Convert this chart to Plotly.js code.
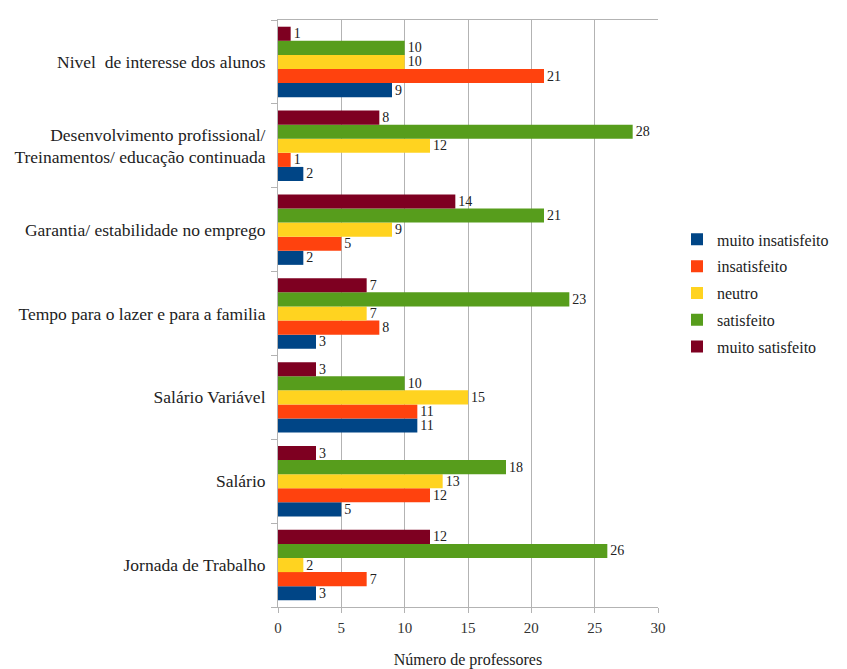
<!DOCTYPE html>
<html><head><meta charset="utf-8">
<script src="https://cdn.plot.ly/plotly-3.0.1.min.js"></script>
<style>html,body{margin:0;padding:0;background:#fff}</style>
</head><body><div id="chart" style="width:847px;height:669px"></div>
<script>
const categories = ['Jornada de Trabalho','Salário','Salário Variável','Tempo para o lazer e para a familia','Garantia/ estabilidade no emprego','Desenvolvimento profissional/<br>Treinamentos/ educação continuada','Nivel  de interesse dos alunos'];
const seriesNames = ['muito insatisfeito','insatisfeito','neutro','satisfeito','muito satisfeito'];
const muitoInsatisfeito = [3, 5, 11, 3, 2, 2, 9];
const insatisfeito = [7, 12, 11, 8, 5, 1, 21];
const neutro = [2, 13, 15, 7, 9, 12, 10];
const satisfeito = [26, 18, 10, 23, 21, 28, 10];
const muitoSatisfeito = [12, 3, 3, 7, 14, 8, 1];
const xTicks = [0, 5, 10, 15, 20, 25, 30];

const colors = ['#004586','#ff420e','#ffd320','#579d1c','#7e0021'];
const values = [muitoInsatisfeito, insatisfeito, neutro, satisfeito, muitoSatisfeito];
const font = 'Liberation Serif';

const traces = values.map((v, i) => ({
  type: 'bar', orientation: 'h', name: seriesNames[i],
  y: categories, x: v, text: v.map(String), textposition: 'outside',
  cliponaxis: false, constraintext: 'none',
  textfont: {family: font, size: 14, color: '#222'},
  marker: {color: colors[i]}, legendgroup: 'g' + i
}));

const layout = {
  width: 847, height: 669,
  margin: {l: 278, r: 189, t: 20, b: 62},
  barmode: 'group', bargap: 0.16, bargroupgap: 0,
  paper_bgcolor: '#fff', plot_bgcolor: '#fff',
  font: {family: font, size: 15, color: '#222'},
  xaxis: {
    range: [0, 30], tickvals: xTicks, ticktext: xTicks.map(String),
    showgrid: true, gridcolor: '#b3b3b3', gridwidth: 1,
    zeroline: false, showline: true, linecolor: '#b3b3b3', mirror: true,
    ticks: 'outside', ticklen: 5, tickcolor: '#b3b3b3',
    ticklabelstandoff: 2,
    tickfont: {family: font, size: 15, color: '#333'},
    title: {text: 'Número de professores', font: {family: font, size: 16, color: '#222'}, standoff: 18}
  },
  yaxis: {
    type: 'category', categoryorder: 'array', categoryarray: categories,
    showgrid: false, zeroline: false, showline: true, linecolor: '#b3b3b3',
    ticks: 'outside', tickson: 'boundaries', ticklen: 6, tickcolor: '#b3b3b3',
    ticklabelstandoff: 8,
    tickfont: {family: font, size: 17.5, color: '#222'}
  },
  showlegend: true,
  legend: {
    x: 1.05, xanchor: 'left', y: 0.535, yanchor: 'middle',
    traceorder: 'grouped', tracegroupgap: 3,
    font: {family: font, size: 16, color: '#222'},
    itemwidth: 30
  }
};

Plotly.newPlot('chart', traces, layout, {displayModeBar: false, staticPlot: true});
</script></body></html>
